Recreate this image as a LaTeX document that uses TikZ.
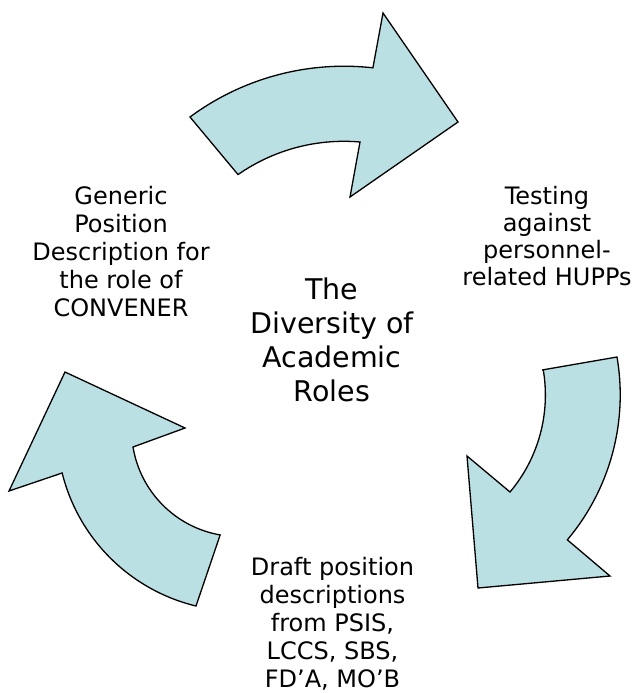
\documentclass[tikz,border=0pt]{standalone}
\usepackage{fontspec}
\setmainfont{DejaVu Sans}
\definecolor{arrowfill}{RGB}{187,224,227}
\begin{document}
\begin{tikzpicture}[x=1pt,y=-1pt,
  cyclearrow/.style={draw=black, fill=arrowfill, line width=1.3pt, line join=miter},
  sidetext/.style={align=center, font=\fontsize{24}{28}\selectfont, inner sep=0pt, anchor=base},
  righttext/.style={align=center, font=\fontsize{24}{26.7}\selectfont, inner sep=0pt, anchor=base},
  centertext/.style={align=center, font=\fontsize{28.5}{34}\selectfont, inner sep=0pt, anchor=base}]
\useasboundingbox (0,0) rectangle (633,693);
% top arrow
\draw[cyclearrow] (190,117) arc[start angle=-126.5, end angle=-83.6, radius=259]
  -- (383,13) -- (458,122) -- (350,197) -- (360,142)
  arc[start angle=-85, end angle=-124.9, radius=185] -- cycle;
% right arrow
\draw[cyclearrow] (542,370) -- (617,357) arc[start angle=-9.7, end angle=40.1, radius=225]
  -- (610,576) -- (478,588) -- (467,456) -- (510,492)
  arc[start angle=40.1, end angle=-9.65, radius=150.5] -- cycle;
% left arrow
\draw[cyclearrow] (196,606) arc[start angle=103.6, end angle=166.05, radius=182]
  -- (9,491) -- (65,372) -- (185,428) -- (133,447)
  arc[start angle=170.6, end angle=99.9, radius=107] -- cycle;
% texts (anchored at the baseline of their last line)
\node[centertext] (centre) at (332,401) {The\\Diversity of\\Academic\\Roles};
\node[sidetext] (convener) at (121,316.5) {Generic\\Position\\Description for\\the role of\\CONVENER};
\node[righttext] (testing) at (547,285) {Testing\\against\\personnel-\\related HUPPs};
\node[sidetext] (draft) at (332.5,687) {Draft position\\descriptions\\from PSIS,\\LCCS, SBS,\\FD’A, MO’B};
\end{tikzpicture}
\end{document}
